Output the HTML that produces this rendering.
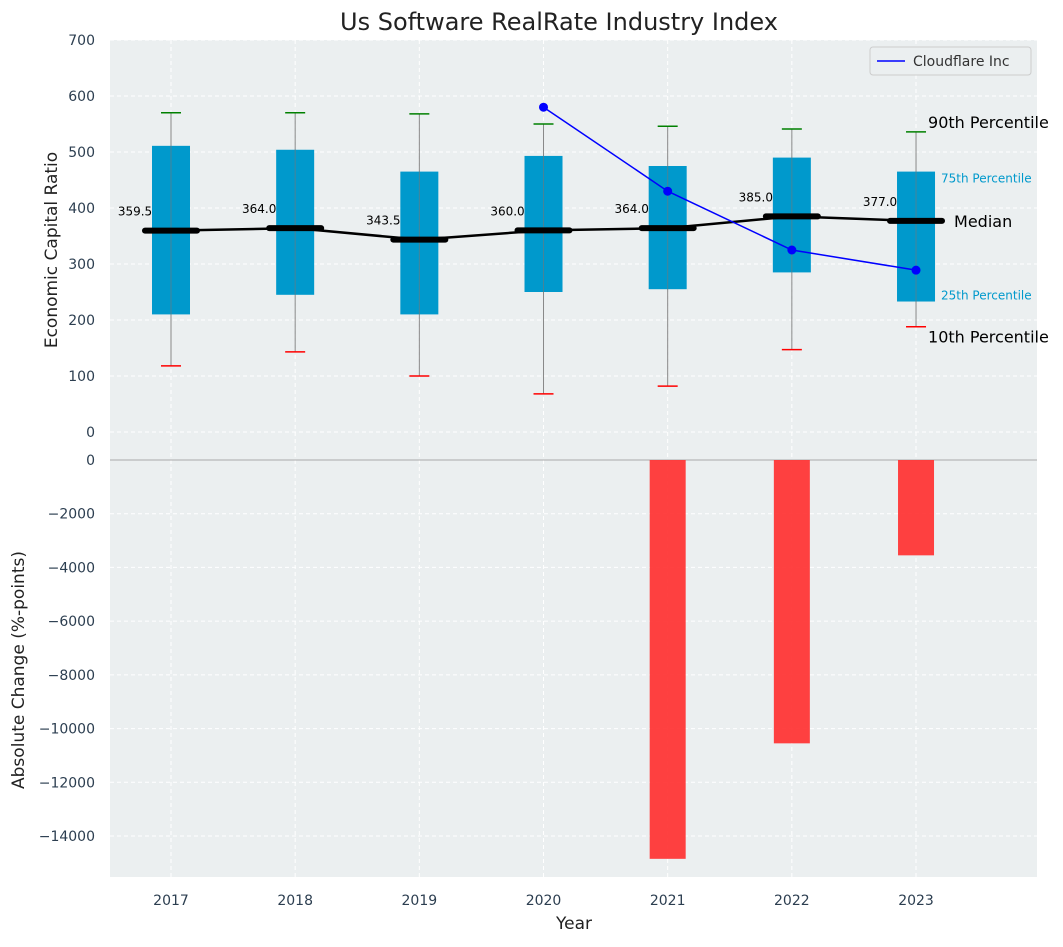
<!DOCTYPE html>
<html><head><meta charset="utf-8"><style>
body{margin:0;background:#fff;}
svg{font-family:"DejaVu Sans","Liberation Sans",sans-serif;}
</style></head><body>
<svg id="c" width="1063" height="942" xmlns="http://www.w3.org/2000/svg"></svg>
<script>
const years=[2017,2018,2019,2020,2021,2022,2023];
const q1=[210,245,210,250,255,285,233];
const q3=[511,504,465,493,475,490,465];
const medians=[359.5,364,343.5,360,364,385,377];
const p10=[118,143,100,68,82,147,188];
const p90=[570,570,568,550,546,541,536];
const cfYears=[2020,2021,2022,2023];
const cfValues=[580,430,325,289];
const barYears=[2021,2022,2023];
const barValues=[-14850,-10550,-3550];
const topTicks=[0,100,200,300,400,500,600,700];
const botTicks=[0,-2000,-4000,-6000,-8000,-10000,-12000,-14000];

const svg=document.getElementById('c');
const NS='http://www.w3.org/2000/svg';
function el(t,a,p){const e=document.createElementNS(NS,t);for(const k in a)e.setAttribute(k,a[k]);(p||svg).appendChild(e);return e;}
const X=y=>171+(y-2017)*124.17;
const YT=v=>432-v*0.56;
const YB=v=>460-v*(376/14000);
const L=110,R=1037;

// backgrounds
let bg=el('rect',{x:L,y:40,width:R-L,height:420,fill:'#ebeff0'});


let bg2=el('rect',{x:L,y:460,width:R-L,height:417,fill:'#ebeff0'});



// grids
topTicks.forEach(v=>{el('line',{x1:L,x2:R,y1:YT(v),y2:YT(v),stroke:'#fff','stroke-dasharray':'4,3'});
 let t=el('text',{x:95,y:YT(v)+5,'text-anchor':'end','font-size':14,fill:'#2c3e50'});t.textContent=v;
 });
botTicks.forEach(v=>{el('line',{x1:L,x2:R,y1:YB(v),y2:YB(v),stroke:'#fff','stroke-dasharray':'4,3'});
 let t=el('text',{x:95,y:YB(v)+5,'text-anchor':'end','font-size':14,fill:'#2c3e50'});t.textContent=(v<0?'\u2212'+(-v):v);
 });
years.forEach(y=>{el('line',{x1:X(y),x2:X(y),y1:40,y2:877,stroke:'#fff','stroke-dasharray':'4,3'});
 let t=el('text',{x:X(y),y:905,'text-anchor':'middle','font-size':14,fill:'#2c3e50'});t.textContent=y;
 });
el('line',{x1:L,x2:R,y1:460,y2:460,stroke:'#aaa','stroke-width':1});

// boxes
years.forEach((y,i)=>{const x=X(y);
 let w=el('line',{x1:x,x2:x,y1:YT(p10[i]),y2:YT(p90[i]),stroke:'#888','stroke-width':1});
 
 let b=el('rect',{x:x-19,y:YT(q3[i]),width:38,height:YT(q1[i])-YT(q3[i]),fill:'#0099cc'});
 
 el('line',{x1:x,x2:x,y1:YT(q3[i]),y2:YT(q1[i]),stroke:'#777','stroke-width':1,opacity:0.6});
 let c1=el('line',{x1:x-10,x2:x+10,y1:YT(p90[i]),y2:YT(p90[i]),stroke:'green','stroke-width':1.5});
 
 let c2=el('line',{x1:x-10,x2:x+10,y1:YT(p10[i]),y2:YT(p10[i]),stroke:'red','stroke-width':1.5});
 
});
// median line
let mp=el('polyline',{points:years.map((y,i)=>X(y)+','+YT(medians[i])).join(' '),fill:'none',stroke:'#000','stroke-width':2.5});

years.forEach((y,i)=>{const x=X(y);
 let m=el('line',{x1:x-26,x2:x+26,y1:YT(medians[i]),y2:YT(medians[i]),stroke:'#000','stroke-width':6,'stroke-linecap':'round'});
 
 let t=el('text',{x:x-36,y:YT(medians[i])-15,'text-anchor':'middle','font-size':12,fill:'#000'});t.textContent=medians[i].toFixed(1);
 
});
// cloudflare
let cl=el('polyline',{points:cfYears.map((y,i)=>X(y)+','+YT(cfValues[i])).join(' '),fill:'none',stroke:'blue','stroke-width':1.5});

cfYears.forEach((y,i)=>{let p=el('circle',{cx:X(y),cy:YT(cfValues[i]),r:4.5,fill:'blue'});
 });
// bars
barYears.forEach((y,i)=>{let b=el('rect',{x:X(y)-18,y:YB(0),width:36,height:YB(barValues[i])-YB(0),fill:'#ff3333',opacity:0.93});
 });

// annotations
const last=years.length-1,xl=X(years[last]);
function ann(txt,x,y,size,col,name){let t=el('text',{x:x,y:y,'font-size':size,fill:col});t.textContent=txt;}
ann('90th Percentile',xl+12,YT(p90[last])-4,16,'#000','p90-annotation');
ann('75th Percentile',xl+25,YT(q3[last])+11,12,'#0099cc','p75-annotation');
ann('Median',xl+38,YT(medians[last])+6,16,'#000','median-annotation');
ann('25th Percentile',xl+25,YT(q1[last])-2,12,'#0099cc','p25-annotation');
ann('10th Percentile',xl+12,YT(p10[last])+16,16,'#000','p10-annotation');

// legend
let lg=el('rect',{x:870,y:47,width:161,height:28,fill:'#ebeff0',stroke:'#ccc',rx:3});

el('line',{x1:877,x2:905,y1:61,y2:61,stroke:'blue','stroke-width':1.5});
ann('Cloudflare Inc',913,66,14,'#333','legend-entry');

// titles
let tt=el('text',{x:559,y:30,'text-anchor':'middle','font-size':24,fill:'#222'});tt.textContent='Us Software RealRate Industry Index';

let xt=el('text',{x:574,y:929,'text-anchor':'middle','font-size':17,fill:'#222'});xt.textContent='Year';

let y1=el('text',{x:0,y:0,'text-anchor':'middle','font-size':17,fill:'#222',transform:'translate(57,250) rotate(-90)'});y1.textContent='Economic Capital Ratio';

let y2=el('text',{x:0,y:0,'text-anchor':'middle','font-size':17,fill:'#222',transform:'translate(24,670) rotate(-90)'});y2.textContent='Absolute Change (%-points)';

</script>
</body></html>
